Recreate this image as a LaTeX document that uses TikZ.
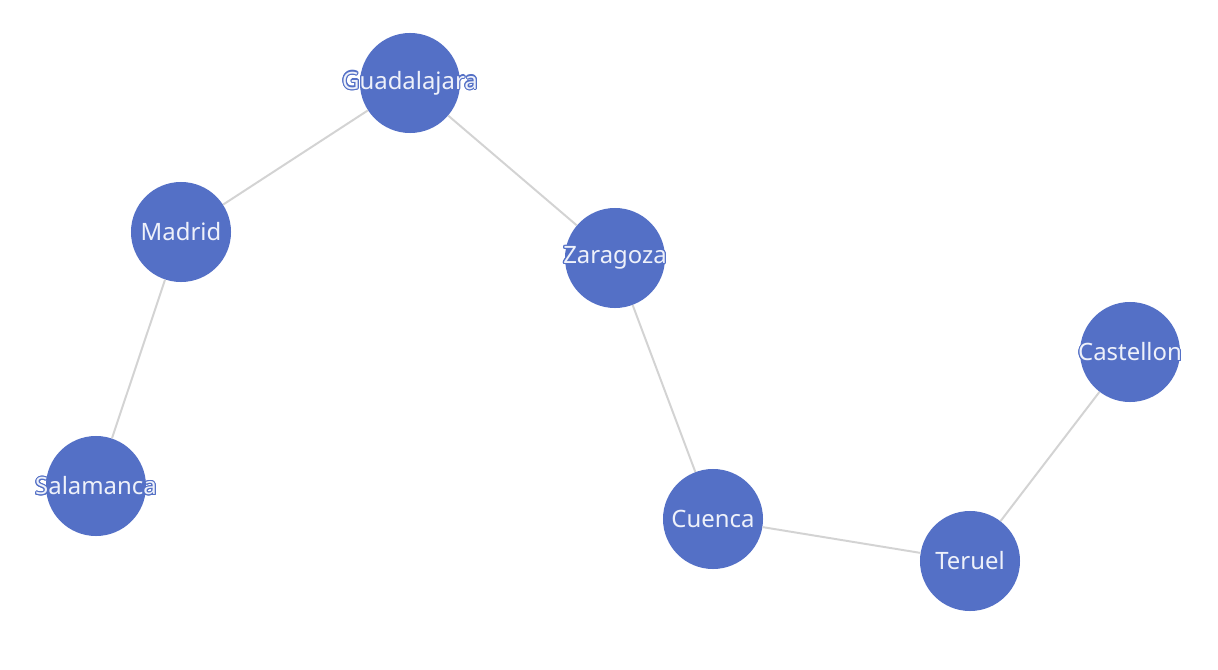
\documentclass[tikz,border=0pt]{standalone}
\usepackage{fontspec}
\setmainfont{Noto Sans}
\usepackage{contour}
\contourlength{0.8pt}
\definecolor{cityblue}{HTML}{5470C6}
\definecolor{roadgray}{HTML}{D3D3D3}
\definecolor{citytext}{HTML}{EEF1FA}
\tikzstyle{city} = [circle, fill=cityblue, minimum size=2.5cm, inner sep=0pt]
\tikzstyle{city-label} = [text=citytext, font=\fontsize{17}{19}\selectfont, inner sep=0pt, yshift=-0.01cm]
\tikzstyle{road} = [draw=roadgray, line width=1.4pt]
\newcommand{\CityNode}[3]{%
    \node (#1) [city, label={[city-label]center:\contour{cityblue}{#3}}] at (#2) {};
}

\begin{document}
\begin{tikzpicture}[x=0.025cm, y=-0.025cm]

\useasboundingbox (0,0) rectangle (1218,670);

\CityNode{GUADALAJARA}{410,83}{Guadalajara}
\CityNode{MADRID}{181,232}{Madrid}
\CityNode{ZARAGOZA}{615,258}{Zaragoza}
\CityNode{SALAMANCA}{96,486}{Salamanca}
\CityNode{CASTELLON}{1130,352}{Castellon}
\CityNode{CUENCA}{713,519}{Cuenca}
\CityNode{TERUEL}{970,561}{Teruel}

% Roads
\draw[road] (GUADALAJARA) -- (MADRID);
\draw[road] (GUADALAJARA) -- (ZARAGOZA);
\draw[road] (MADRID) -- (SALAMANCA);
\draw[road] (ZARAGOZA) -- (CUENCA);
\draw[road] (CUENCA) -- (TERUEL);
\draw[road] (TERUEL) -- (CASTELLON);

\end{tikzpicture}
\end{document}
